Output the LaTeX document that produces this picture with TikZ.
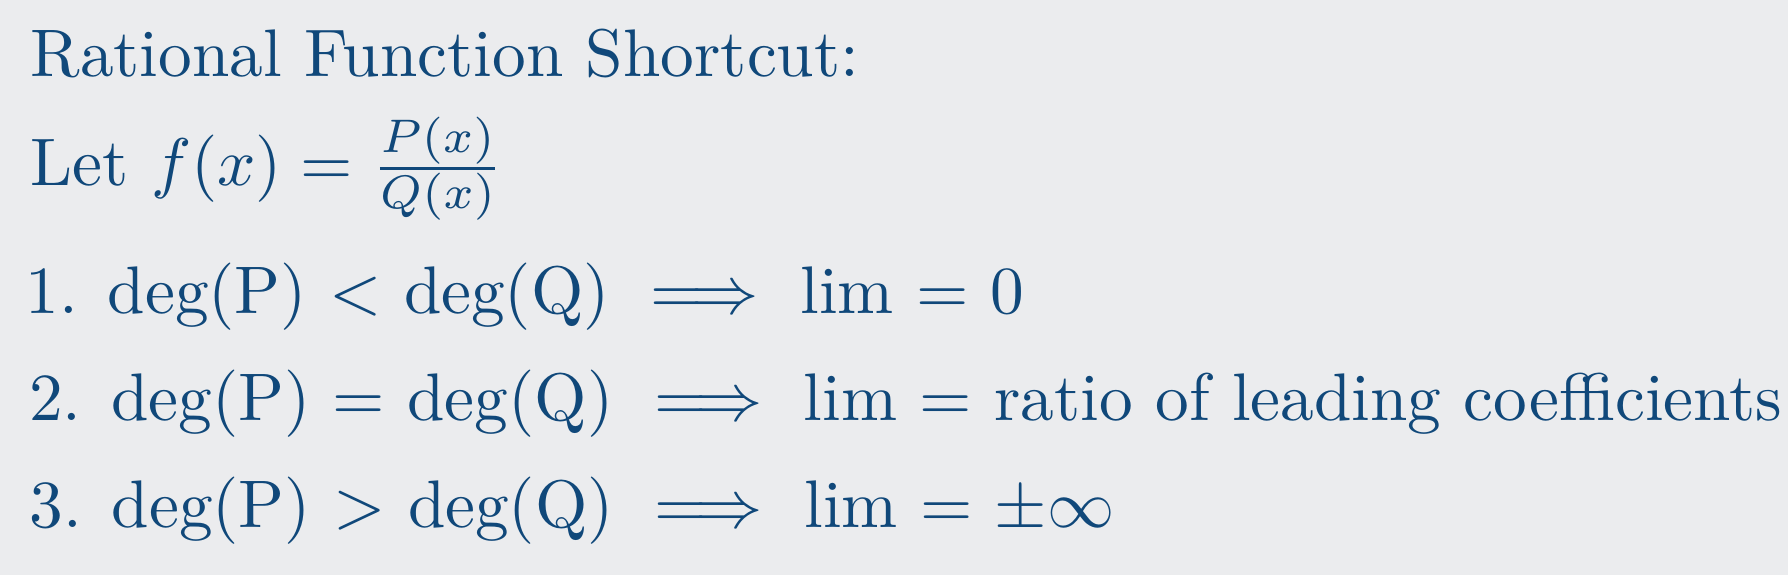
\documentclass[tikz,border=0pt]{standalone}
\usepackage{amsmath}
\definecolor{bg}{RGB}{235,236,238}
\definecolor{ink}{RGB}{16,72,122}
\begin{document}
\begin{tikzpicture}[x=1pt,y=1pt,
  txt/.style={anchor=base west,inner sep=0pt,outer sep=0pt,text=ink,font=\fontsize{10}{12}\selectfont,scale=6.73,transform shape}]
\fill[bg] (0,0) rectangle (1788,-575);
\useasboundingbox (0,0) rectangle (1788,-575);
\node[txt] (title) at (30.6,-77) {Rational Function Shortcut:};
\node[txt] (let) at (30.6,-185) {Let $f(x) = \frac{P(x)}{Q(x)}$};
\node[txt] (one) at (25.5,-313) {1. deg(P) $<$ deg(Q) $\implies$ lim $=$ 0};
\node[txt] (two) at (29,-420) {2. deg(P) $=$ deg(Q) $\implies$ lim $=$ ratio of leading coefficients};
\node[txt] (three) at (29.5,-527) {3. deg(P) $>$ deg(Q) $\implies$ lim $=$ $\pm\infty$};
\end{tikzpicture}
\end{document}
